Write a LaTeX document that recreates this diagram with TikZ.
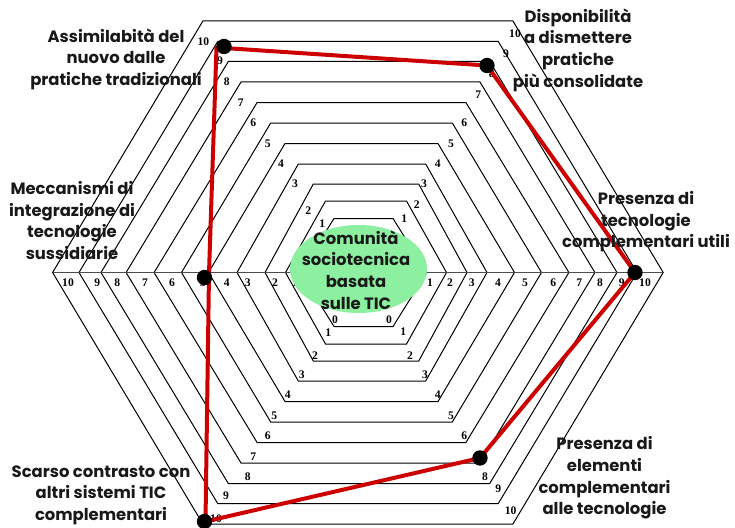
\documentclass[tikz,border=0pt]{standalone}
\usepackage{fontspec}
\usetikzlibrary{shapes.geometric}

\newfontfamily\capfamily{Poppins}
\newfontfamily\numfamily{Liberation Serif}

\definecolor{plotred}{RGB}{204,0,0}
\definecolor{hubgreen}{RGB}{140,240,160}

% geometric sans for the captions, bold serif for the scale numbers
\newcommand\captionfont{\capfamily\bfseries\fontsize{12.3}{16.2}\selectfont}
\newcommand\scalefont{\numfamily\bfseries\fontsize{8.7}{9}\selectfont}

\tikzset{
  ring/.style={draw=black, line width=0.75pt, line join=miter},
  axisline/.style={draw=black!70, line width=0.9pt},
  num/.style={font=\scalefont, inner sep=0pt},
  caption/.style={font=\captionfont, align=center, inner sep=0pt, text=black!90},
  hub/.style={ellipse, fill=hubgreen, draw=none, inner sep=0pt,
              minimum width=102.75pt, minimum height=66pt},
  dataline/.style={draw=plotred, line width=3pt, line join=round},
  dot/.style={circle, fill=black, inner sep=0pt, minimum size=11.5pt}
}

\begin{document}
\begin{tikzpicture}[x=0.75pt, y=-0.75pt]
\useasboundingbox (0,0) rectangle (735,528);

% concentric hexagonal scale rings: centre x / half top edge / half width / half height
\foreach \cx/\t/\hw/\hh in {
    363.5/29.5/63.2/54,
    366/40.5/80.5/71.5,
    366/52.7/101/88.5,
    362/63.7/125/108.5,
    361.5/76.5/153/129,
    361.5/90.8/180/149.5,
    361.5/104.4/207.4/170,
    360.5/119.5/234.4/190.5,
    359/130.7/258/211,
    358/140.3/279/231,
    357.9/154.9/305.3/251.7}{
  \draw[ring] (\cx-\hw,272.5) -- (\cx-\t,272.5-\hh) -- (\cx+\t,272.5-\hh)
     -- (\cx+\hw,272.5) -- (\cx+\t,272.5+\hh) -- (\cx-\t,272.5+\hh) -- cycle;
}

% horizontal axis
\draw[axisline] (52.7,272.5) -- (663.2,272.5);

% scale numbers, upper left axis
\foreach \x/\y/\n in {203.3/41.7/10, 220/60.7/9, 226.7/81.7/8, 240.7/102.7/7,
    253.3/122.7/6, 267.7/144/5, 281/163.3/4, 295/183.3/3, 308.3/211/2, 322.3/223.7/1}
  \node[num] (ul\n) at (\x,\y) {\n};
% upper right axis
\foreach \x/\y/\n in {515/33.3/10, 506/53.3/9, 491.7/73.3/8, 478.3/95/7,
    464.3/122.7/6, 451/144/5, 437.7/163.3/4, 424/183.3/3, 416.7/204.3/2, 404.3/218.7/1}
  \node[num] (ur\n) at (\x,\y) {\n};
% left axis
\foreach \x/\n in {68/10, 97.3/9, 117.3/8, 145/7, 172/6, 203/5, 226.7/4, 247.7/3, 275/2, 295/1}
  \node[num] (lf\n) at (\x,282.5) {\n};
% right axis
\foreach \x/\n in {430/1, 450/2, 471.7/3, 498/4, 525/5, 553.3/6, 579.3/7, 600/8, 621.7/9, 645/10}
  \node[num] (rt\n) at (\x,282.5) {\n};
% lower left axis
\foreach \x/\y/\n in {335/320/0, 328.3/332.7/1, 315/355.3/2, 301.7/374.7/3, 287.7/394.7/4,
    274.3/415.3/5, 267.7/435.3/6, 253.3/457/7, 247.7/477/8, 226/495.3/9, 216/518.7/10}
  \node[num] (ll\n) at (\x,\y) {\n};
% lower right axis
\foreach \x/\y/\n in {389/320/0, 403.3/332/1, 410/355.3/2, 425/374.7/3, 437.7/394.7/4,
    451/415.3/5, 464.3/436/6, 478/456/7, 485/477/8, 498.3/488.7/9, 510.7/510.3/10}
  \node[num] (lr\n) at (\x,\y) {\n};

% central community
\node[hub] (hubshape) at (358.5,269) {};
\node[caption] (hubtext) at (356,270) {Comunità\\sociotecnica\\basata\\sulle TIC};

% profile polygon
\coordinate (v1) at (216.5,47.5);
\coordinate (v2) at (487,65.5);
\coordinate (v3) at (635,272.5);
\coordinate (v4) at (480,458);
\coordinate (v5) at (205.5,521.5);
\coordinate (v6) at (209,273);
\draw[dataline] (v1) -- (v2) -- (v3) -- (v4) -- (v5) -- (v6) -- cycle;

\node[dot] (d1) at (224,46.5) {};
\node[dot] (d2) at (487,65.5) {};
\node[dot] (d3) at (635,272.5) {};
\node[dot] (d4) at (480,458) {};
\node[dot] (d5) at (204.5,521.5) {};
\node[dot] (d6) at (204.5,277.5) {};

% axis captions
\node[caption] (capA) at (116,59) {Assimilabità del\\nuovo dalle\\pratiche tradizionali};
\node[caption] (capB) at (578,50) {Disponibilità\\a dismettere\\pratiche\\più consolidate};
\node[caption] (capC) at (72,220.5) {Meccanismi di\\integrazione di\\tecnologie\\sussidiarie};
\node[caption] (capD) at (646,222) {Presenza di\\tecnologie\\complementari utili};
\node[caption] (capE) at (101,495) {Scarso contrasto con\\altri sistemi TIC\\complementari};
\node[caption] (capF) at (604.5,478) {Presenza di\\elementi\\complementari\\alle tecnologie};
\end{tikzpicture}
\end{document}
